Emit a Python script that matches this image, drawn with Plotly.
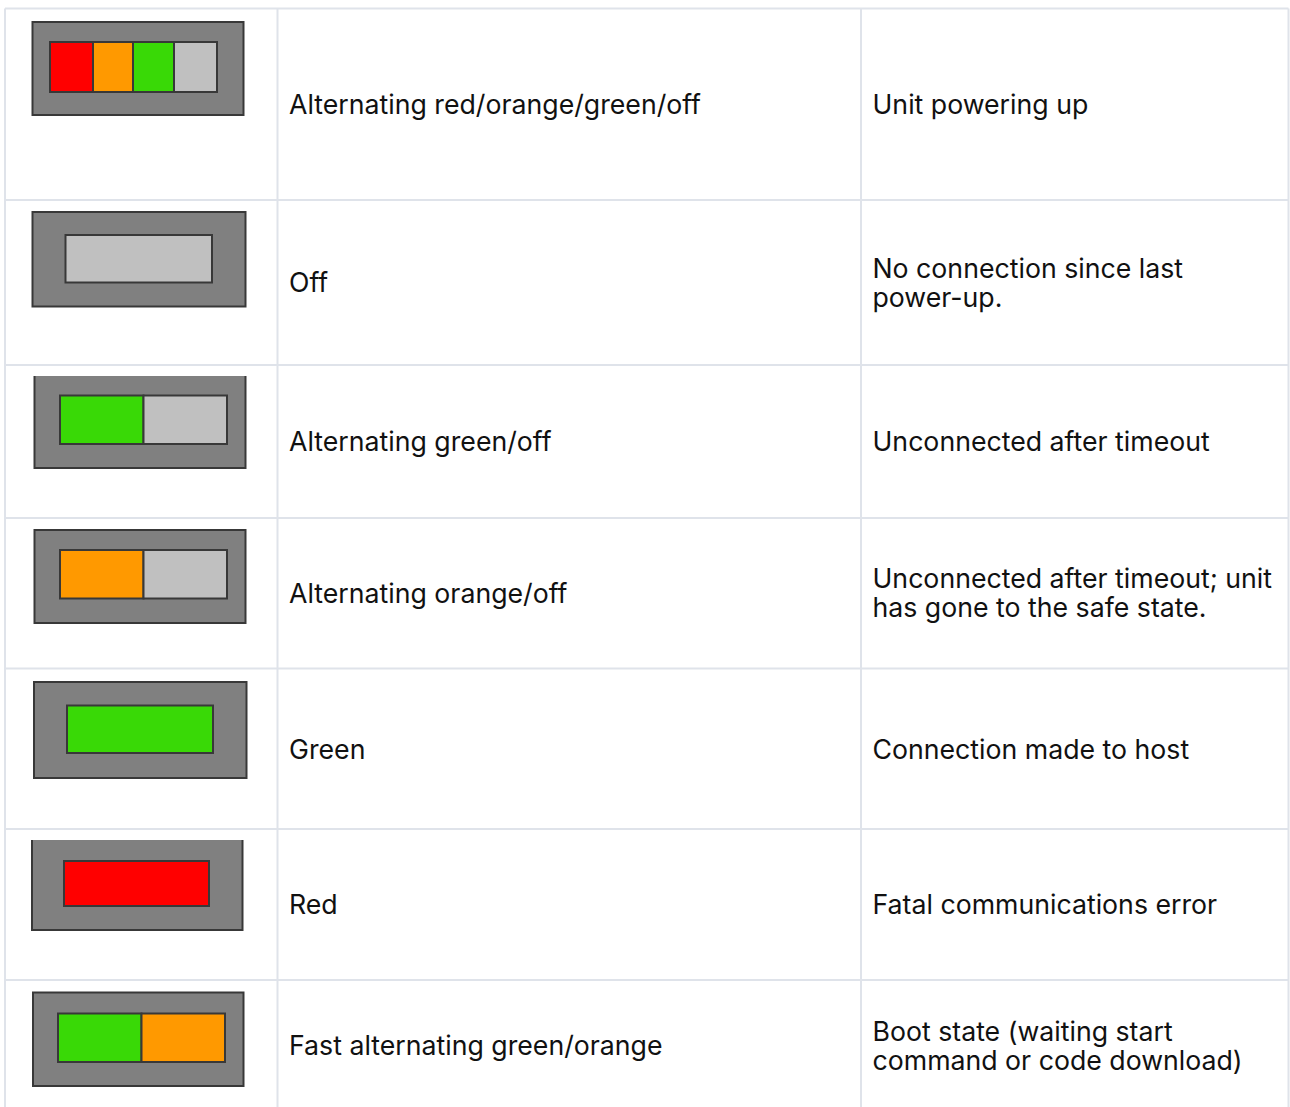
import plotly.graph_objects as go

# ---- table content ----
state_labels = ["Alternating red/orange/green/off", "Off", "Alternating green/off", "Alternating orange/off",
                "Green", "Red", "Fast alternating green/orange"]
meanings = [["Unit powering up"], ["No connection since last", "power-up."], ["Unconnected after timeout"],
            ["Unconnected after timeout; unit", "has gone to the safe state."], ["Connection made to host"],
            ["Fatal communications error"], ["Boot state (waiting start", "command or code download)"]]
led_segments = [["red", "orange", "green", "off"], ["off"], ["green", "off"], ["orange", "off"],
                ["green"], ["red"], ["green", "orange"]]

# ---- layout ----
W, H = 1290, 1107
col_lines = [5, 277.5, 861, 1288.5]
row_lines = [8.5, 200, 365, 518, 668.5, 829, 980]
label_y = [107, 285, 444, 596, 752, 907, 1048]
meaning_y = [[107], [271, 300], [444], [581, 610], [752], [907], [1034, 1063]]
outer_boxes = [(32.5, 22, 243.5, 115), (32.5, 212, 245.5, 306.5), (34.5, 376, 245.5, 468), (34.5, 530, 245.5, 623),
               (34, 682, 246.5, 778), (32, 840, 242.5, 930), (33, 992.5, 243.5, 1086)]
open_top = [False, False, True, False, False, True, False]
inner_boxes = [(50, 42, 217, 92), (65.5, 235, 212, 282.5), (60, 395.5, 227, 444), (60, 550, 227, 598.5),
               (67, 705.5, 213, 753), (64, 861, 209, 906), (58, 1013.5, 225, 1062)]
segment_edges = [[50, 93, 133, 174, 217], [65.5, 212], [60, 143.5, 227], [60, 143.5, 227],
                 [67, 213], [64, 209], [58, 141.5, 225]]

COLORS = {"red": "#ff0000", "orange": "#ff9900", "green": "#39d906", "off": "#c0c0c0"}
GRID = "#dfe3ea"
FRAME = "#383838"
FONT = "Inter"
SIZE = 26.7

shapes = []
for x in col_lines:
    shapes.append(dict(type="line", x0=x, x1=x, y0=row_lines[0], y1=H, line=dict(color=GRID, width=2)))
for y in row_lines:
    shapes.append(dict(type="line", x0=col_lines[0], x1=col_lines[-1], y0=y, y1=y, line=dict(color=GRID, width=2)))

for i, (x0, y0, x1, y1) in enumerate(outer_boxes):
    if open_top[i]:
        path = f"M{x0},{y0} L{x0},{y1} L{x1},{y1} L{x1},{y0}"
    else:
        path = f"M{x0},{y0} L{x0},{y1} L{x1},{y1} L{x1},{y0} Z"
    shapes.append(dict(type="path", path=path, fillcolor="#808080", line=dict(color=FRAME, width=2)))
    ix0, iy0, ix1, iy1 = inner_boxes[i]
    edges = segment_edges[i]
    for j, seg in enumerate(led_segments[i]):
        shapes.append(dict(type="rect", x0=edges[j], x1=edges[j + 1], y0=iy0, y1=iy1,
                           fillcolor=COLORS[seg], line=dict(color=FRAME, width=2)))

text_x, text_y, text_s = [], [], []
for label, y in zip(state_labels, label_y):
    text_x.append(col_lines[1] + 11.5)
    text_y.append(y)
    text_s.append(label)
for lines, ys in zip(meanings, meaning_y):
    for line, y in zip(lines, ys):
        text_x.append(col_lines[2] + 11.5)
        text_y.append(y)
        text_s.append(line)

fig = go.Figure(go.Scatter(x=text_x, y=text_y, text=text_s, mode="text", textposition="middle right",
                           textfont=dict(family=FONT, size=SIZE, color="#111111"),
                           hoverinfo="skip", showlegend=False, cliponaxis=False))
fig.update_layout(
    width=W, height=H, margin=dict(l=0, r=0, t=0, b=0),
    paper_bgcolor="white", plot_bgcolor="white", shapes=shapes,
    xaxis=dict(range=[0, W], visible=False, fixedrange=True),
    yaxis=dict(range=[H, 0], visible=False, fixedrange=True),
)
fig.write_html("out.html", config={"displayModeBar": False},
               post_script="document.body.style.margin='0';document.body.style.overflow='hidden';")
